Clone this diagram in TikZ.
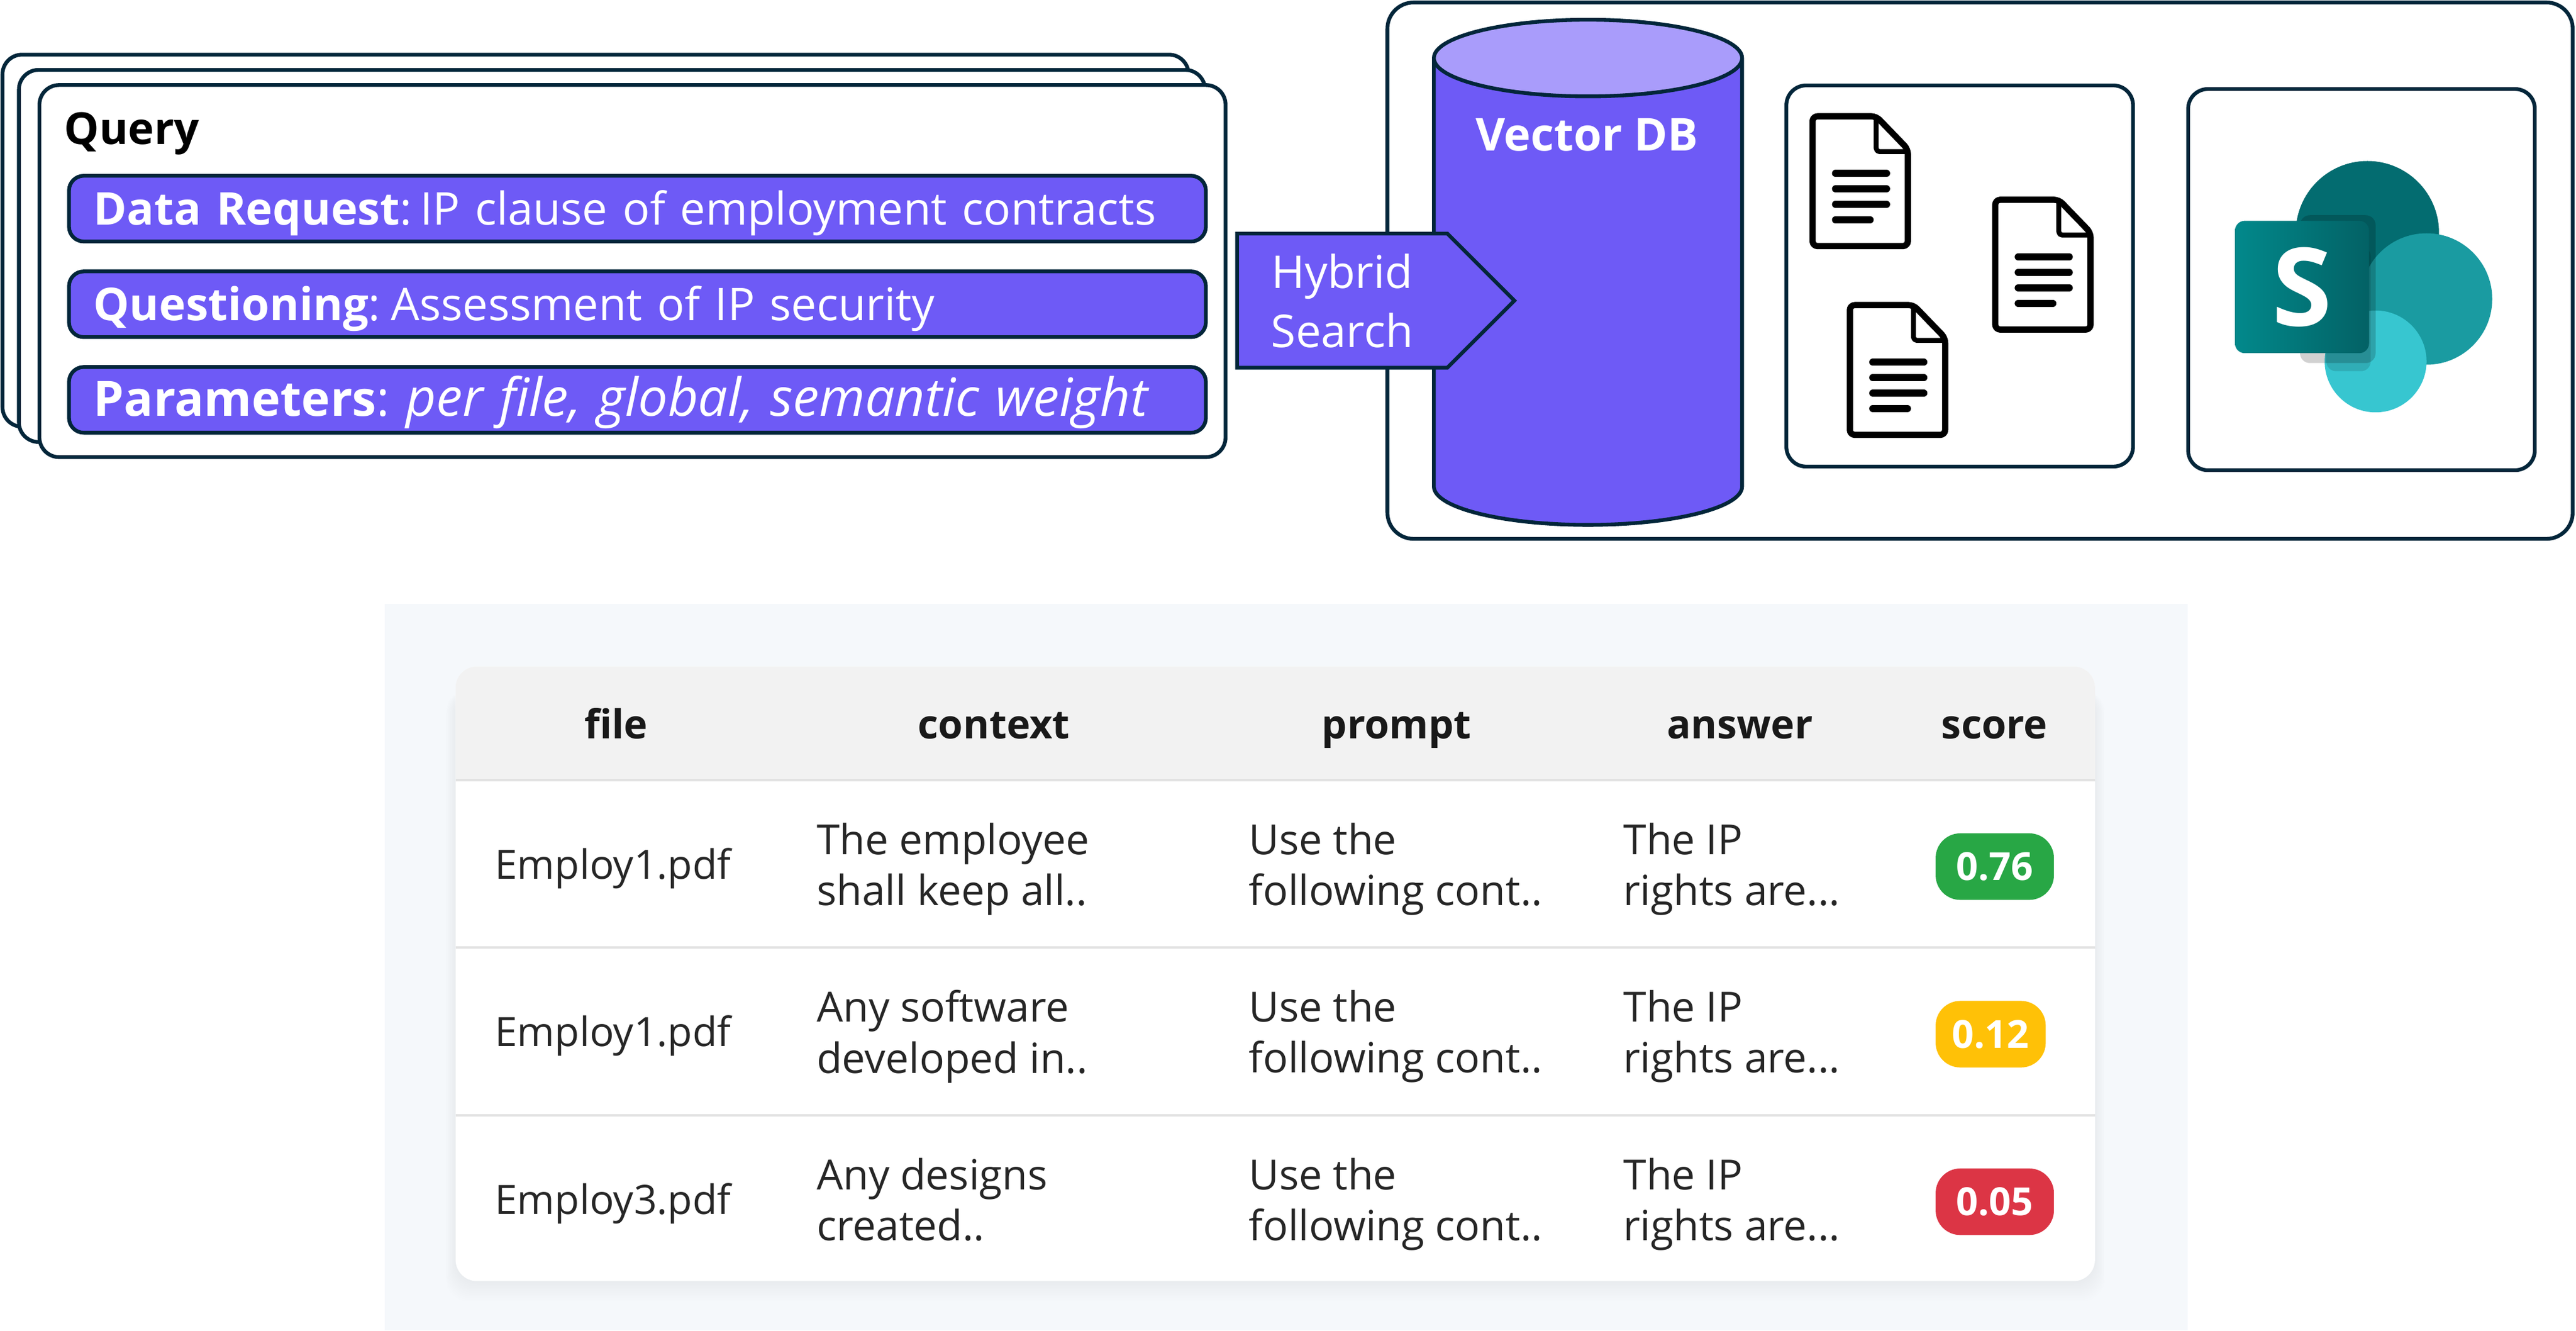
\documentclass[tikz,border=0pt]{standalone}
\usepackage{fontspec}
\setmainfont{Open Sans}
\usetikzlibrary{positioning,shapes.geometric,shapes.symbols}
\definecolor{navy}{HTML}{03263A}
\definecolor{violet}{HTML}{6E5AF6}
\definecolor{lilac}{HTML}{A99CFB}
\definecolor{panelbg}{HTML}{F5F8FB}
\definecolor{headbg}{HTML}{F2F2F2}
\definecolor{rowline}{HTML}{E2E2E2}
\definecolor{goodscore}{HTML}{28A745}
\definecolor{midscore}{HTML}{FFC107}
\definecolor{badscore}{HTML}{DC3545}
\definecolor{spdark}{HTML}{036C70}
\definecolor{spmid}{HTML}{1A9BA1}
\definecolor{splight}{HTML}{37C6D0}
\tikzset{
  docicon/.pic={
    \draw[black,line width=3.8,rounded corners=3,line join=round] (0,0) -- (38.7,0) -- (58,-20) -- (58,-79) -- (0,-79) -- cycle;
    \draw[black,line width=3,rounded corners=2,line join=round] (38.7,0) -- (38.7,-21.5) -- (58,-21.5);
    \foreach \y in {-34.8,-44.2,-53.6} \draw[black,line width=4.4,line cap=round] (14,\y) -- (45,\y);
    \draw[black,line width=4.4,line cap=round] (14,-63) -- (35,-63);
  }
}
\begin{document}
\begin{tikzpicture}[x=1pt,y=1pt,node distance=58.2pt,on grid]
  \tikzstyle{box}=[draw=navy,line width=2.3pt,fill=white,rounded corners=12pt]
  \tikzstyle{querycard}=[box,minimum width=722pt,minimum height=226.5pt]
  \tikzstyle{querybar}=[draw=navy,line width=2.3pt,fill=violet,rounded corners=9pt,text=white,
    minimum width=692pt,minimum height=40pt,text width=662pt,align=left,inner xsep=15pt,
    font=\fontsize{27.5}{32}\selectfont,text height=23pt,text depth=3pt]
  \tikzstyle{sourcebox}=[box,minimum width=211pt,minimum height=232pt]
  \tikzstyle{headcell}=[anchor=base,font=\fontsize{24.3}{28}\selectfont\bfseries,text=black!90]
  \tikzstyle{cell}=[anchor=west,inner sep=0pt,align=left,font=\fontsize{25.3}{31}\selectfont,text=black!85]
  \tikzstyle{pill}=[rounded corners=15pt,minimum height=40.5pt,inner sep=0pt,text=white,
    font=\fontsize{23.5}{26}\selectfont\bfseries]

  \useasboundingbox (0,0) rectangle (1568,-809.9);

  % query stack
  \node[querycard] (card_a) at (362.5,-146.5) {};
  \node[querycard] (card_b) at (372.5,-155.8) {};
  \node[querycard] (card_c) at (385,-165) {};
  \node[anchor=west,inner sep=0pt,font=\fontsize{26.8}{32}\selectfont\bfseries] (query) at (39,-81.5) {Query};
  \node[querybar] (bar_a) at (388,-127) {\textbf{Data Request}:\hspace{5pt}IP clause of employment contracts};
  \node[querybar] (bar_b) [below =of bar_a] {\textbf{Questioning}:\hspace{6.5pt}Assessment of IP security};
  \node[querybar,font=\fontsize{29.6}{32}\selectfont] (bar_c) [below =of bar_b] {\textbf{Parameters}:\hspace{10pt}\textit{\fontsize{32}{32}\selectfont per file, global, semantic weight}};

  % store
  \node[box,rounded corners=16pt,minimum width=721.5pt,minimum height=326.5pt] (store) at (1205.25,-164.75) {};
  \node[cylinder,shape border rotate=90,aspect=7,anchor=shape center,draw=navy,line width=2.3pt,cylinder uses custom fill,
    cylinder body fill=violet,cylinder end fill=lilac,minimum width=187.6pt,minimum height=307.5pt] (vector_db) at (966.6,-165.75) {};
  \node[text=white,font=\fontsize{27.6}{32}\selectfont\bfseries] (vector_label) at (966,-82) {Vector DB};
  \node[signal,signal to=east,signal pointer angle=90,draw=navy,line width=2.3pt,fill=violet,text=white,align=center,
    inner sep=0pt,text width=128pt,minimum height=81.6pt,font=\fontsize{27.5}{36}\selectfont] (hybrid) at (817,-183) {Hybrid\\Search};

  \node[sourcebox] (docs) at (1192.85,-168) {};
  \node[sourcebox] (sharepoint) at (1437.4,-170.2) {};
  \pic at (1103.3,-70.8) {docicon};
  \pic at (1214.5,-121.6) {docicon};
  \pic at (1126,-185.7) {docicon};

  % sharepoint logo
  \fill[spdark] (1441,-141.6) circle (43.6);
  \fill[spmid] (1477,-182) circle (40);
  \fill[splight] (1446,-220) circle (31);
  \fill[black,opacity=.18,rounded corners=6] (1400,-131) rectangle (1446,-221);
  \fill[black,opacity=.12,rounded corners=6] (1416,-150) rectangle (1443,-226);
  \node[left color=spdark!70!cyan!90!black,right color=spdark!90!black,rounded corners=6pt,minimum width=81.6pt,minimum height=80.6pt,
    inner sep=0pt,text=white,font=\fontsize{66}{70}\selectfont\bfseries] (sp_tile) at (1401.2,-174.7) {S};

  % result table
  \fill[panelbg] (234,-367.6) rectangle (1331.5,-809.9);
  \foreach \s in {1,...,12}
    \fill[black,opacity=.005,rounded corners=14] ({277.3-\s/2},{-420}) rectangle ({1275.2+\s/2},{-780-\s});
  \fill[white,rounded corners=13] (277.3,-405.7) rectangle (1275.2,-779.8);
  \fill[headbg] (277.3,-474.6) {[rounded corners=13] -- (277.3,-405.7) -- (1275.2,-405.7)} -- (1275.2,-474.6) -- cycle;
  \foreach \y in {-474.8,-576.8,-678.9}
    \draw[rowline,line width=1.6] (277.3,\y) -- (1275.2,\y);

  \foreach \x/\nm in {375/file,605/context,850/prompt,1059/answer,1214/score}
    \node[headcell] (head_\nm) at (\x,-449.5) {\nm};

  \foreach \y/\fl/\ctx/\col/\pw/\val [count=\i] in {
      -527/Employ1.pdf/{The employee\\shall keep all..}/goodscore/72/0.76,
      -629/Employ1.pdf/{Any software\\developed in..}/midscore/67/0.12,
      -731/Employ3.pdf/{Any designs\\created..\vphantom{g}}/badscore/72/0.05}{
    \node[cell,font=\fontsize{24.6}{31}\selectfont] (file_\i) at (301,\y-1.5) {\fl};
    \node[cell] (context_\i) at (497,\y-2) {\ctx};
    \node[cell] (prompt_\i) at (760,\y-2) {Use the\\following cont..};
    \node[cell] (answer_\i) at (988,\y-2) {The IP\\rights are...};
    \node[pill,fill=\col,minimum width=\pw pt,anchor=west] (score_\i) at (1178,\y-0.5) {\val};
  }
\end{tikzpicture}
\end{document}
